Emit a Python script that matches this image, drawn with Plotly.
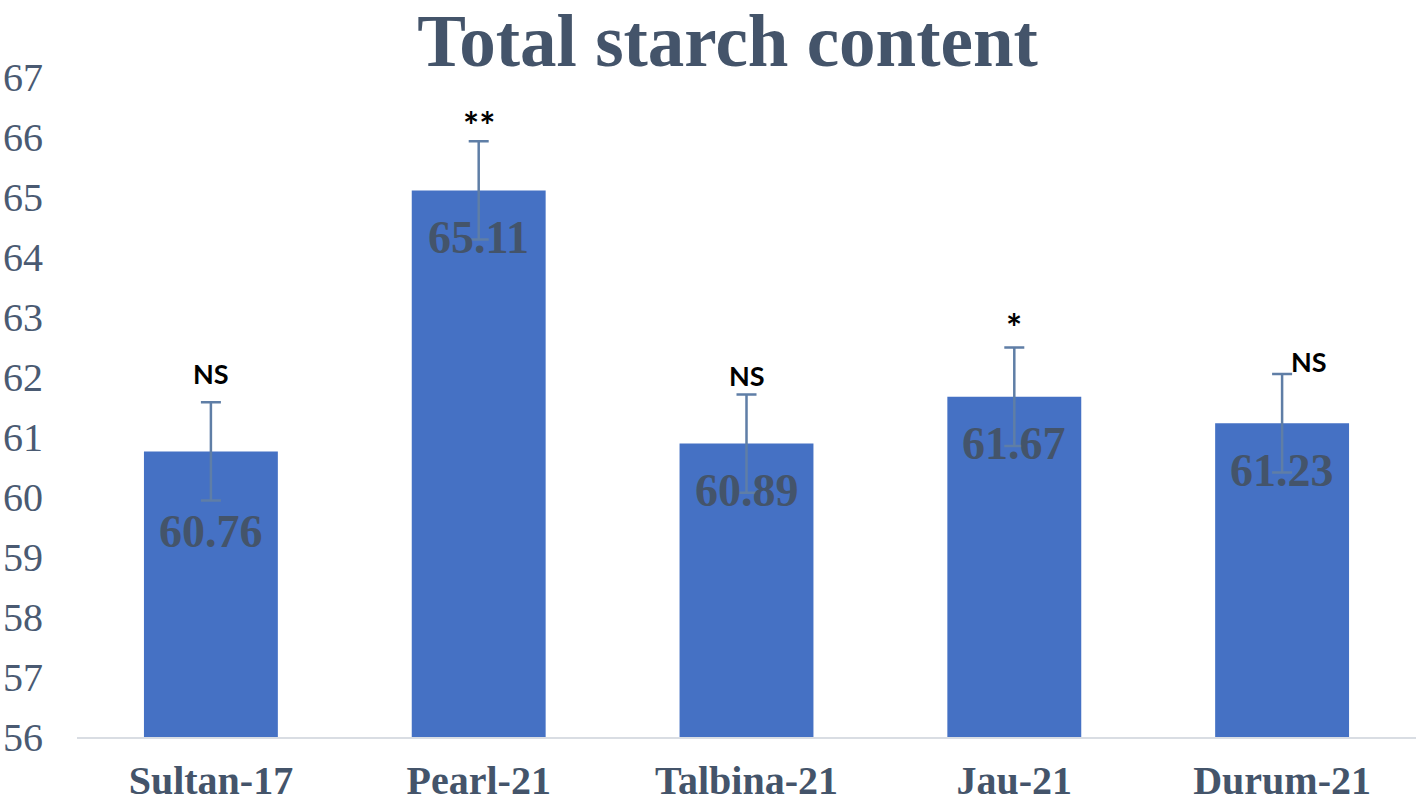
import plotly.graph_objects as go

categories = ["Sultan-17", "Pearl-21", "Talbina-21", "Jau-21", "Durum-21"]
values = [60.76, 65.11, 60.89, 61.67, 61.23]
errors = [0.82, 0.82, 0.82, 0.82, 0.82]
significance = ["NS", "**", "NS", "*", "NS"]
label_yshift = [-80, -47, -47, -47, -47]
sig_xshift = [0, 0, 0, 0, 27]
sig_yshift = [10, -9, 0, -4, -6]
y_ticks = list(range(56, 68))

TEXT = "#44546a"
SERIF = "Liberation Serif"

fig = go.Figure()
fig.add_trace(go.Bar(
    x=categories,
    y=[v - 56 for v in values],
    base=56,
    marker=dict(color="#4571c4", line=dict(width=0)),
    error_y=dict(type="data", array=errors, color="#5f7ea6", thickness=2.5, width=10),
    hoverinfo="skip",
))

annotations = []
for c, v, e, s, ls, xs, ys in zip(categories, values, errors, significance,
                                  label_yshift, sig_xshift, sig_yshift):
    annotations.append(dict(
        x=c, y=v, xref="x", yref="y", text=f"{v:.2f}", showarrow=False,
        yanchor="middle", yshift=ls,
        font=dict(family=SERIF, size=46, color=TEXT, weight="bold"),
    ))
    annotations.append(dict(
        x=c, y=v + e, xref="x", yref="y", text=s, showarrow=False,
        yanchor="bottom", yshift=ys, xshift=xs,
        font=dict(family="Lato", size=(38 if "*" in s else 27), color="#000000", weight="bold"),
    ))

fig.update_layout(
    width=1421, height=812,
    margin=dict(l=77, r=5, t=77, b=75),
    paper_bgcolor="white", plot_bgcolor="white",
    bargap=0.5,
    showlegend=False,
    title=dict(
        text="Total starch content", x=0.512, xanchor="center", y=0.95, yanchor="middle",
        font=dict(family=SERIF, size=73, color=TEXT, weight="bold"),
    ),
    annotations=annotations,
    xaxis=dict(
        showgrid=False, showline=True, linecolor="#d9dde3", linewidth=2,
        ticks="", tickfont=dict(family=SERIF, size=40, color=TEXT, weight="bold"),
        ticklabelstandoff=7, automargin=False,
    ),
    yaxis=dict(
        range=[56, 67], tickvals=y_ticks, showgrid=False, zeroline=False, showline=False,
        ticks="", tickfont=dict(family=SERIF, size=40, color="#4a5a72"),
        ticklabelstandoff=33, automargin=False,
    ),
)

fig.write_html(
    "out.html",
    config={"displayModeBar": False},
    post_script="document.body.style.margin='0';document.body.style.overflow='hidden';",
)
